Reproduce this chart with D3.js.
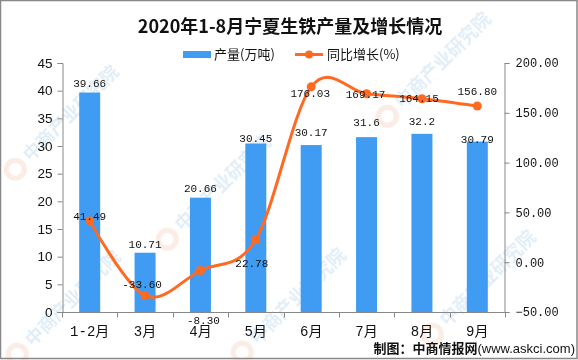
<!DOCTYPE html>
<html><head><meta charset="utf-8">
<script src="https://cdn.jsdelivr.net/npm/d3@7/dist/d3.min.js"></script>
<style>body{margin:0;background:#fff}svg{display:block}</style>
</head><body>
<script>
const categories = ["1-2月","3月","4月","5月","6月","7月","8月","9月"];
const output = [39.66,10.71,20.66,30.45,30.17,31.6,32.2,30.79];
const growth = [41.49,-33.60,-8.30,22.78,176.03,169.17,164.15,156.80];
const leftTicks = [0,5,10,15,20,25,30,35,40,45];
const rightTicks = [-50,0,50,100,150,200];

// label placement offsets (style)
const barLabelDy = [-6,-5,-6,-2,-9,-11,-9,1];
const lineLabelOff = [[0,-1],[-3,-8],[3,54],[-4,27],[-1,10],[-1,4],[-3,3],[0,-11]];

const W=578,H=360;
const svg=d3.select("body").append("svg").attr("width",W).attr("height",H);
const mono='"Liberation Mono","Noto Sans CJK SC",monospace';
const cjk='"Noto Sans CJK SC",sans-serif';

// watermark
const wm=svg.append("g").attr("opacity",0.2);
const wmPos=[[28,165],[180,235],[400,112],[445,330],[30,350],[255,348]];
wmPos.forEach(p=>{
  const g=wm.append("g").attr("transform",`translate(${p[0]},${p[1]}) rotate(-45)`);
  g.append("circle").attr("cx",-12).attr("cy",-6).attr("r",9).attr("fill","none").attr("stroke","#e8a080").attr("stroke-width",5);
  g.append("text").attr("x",4).attr("y",0).attr("font-family",cjk).attr("font-weight","bold").attr("font-size",18).attr("fill","#6aa6d8").text("中商产业研究院");
});

const x=d3.scaleBand().domain(categories).range([62,505]);
const yL=d3.scaleLinear().domain([0,45]).range([312,63]);
const yR=d3.scaleLinear().domain([-50,200]).range([312,63]);

// title
svg.append("text").attr("x",290).attr("y",33).attr("text-anchor","middle")
  .attr("font-family",'"Noto Sans CJK SC",serif').attr("font-weight","bold").attr("font-size",18).attr("fill","#111")
  .text("2020年1-8月宁夏生铁产量及增长情况");

// legend
svg.append("rect").attr("x",183).attr("y",51).attr("width",28).attr("height",7).attr("fill","#3f9cf2");
svg.append("text").attr("x",214).attr("y",59).attr("font-family",cjk).attr("font-size",13).attr("fill","#111").text("产量(万吨)");
svg.append("line").attr("x1",295).attr("x2",323).attr("y1",54.5).attr("y2",54.5).attr("stroke","#ff6a23").attr("stroke-width",3);
svg.append("circle").attr("cx",309).attr("cy",54.5).attr("r",4).attr("fill","#ff6a23");
svg.append("text").attr("x",327).attr("y",59).attr("font-family",cjk).attr("font-size",13).attr("fill","#111").text("同比增长(%)");

// axes
const axisColor="#888";
const gl=svg.append("g").attr("transform","translate(62.5,0)").call(d3.axisLeft(yL).tickValues(leftTicks).tickSize(5).tickPadding(5));
gl.selectAll("path,line").attr("stroke",axisColor);
gl.selectAll("text").attr("font-family",'"Liberation Sans",Arial,sans-serif').attr("font-size",13.5).attr("fill","#111");
const gr=svg.append("g").attr("transform","translate(504.5,0)").call(d3.axisRight(yR).tickValues(rightTicks).tickSize(5).tickPadding(6).tickFormat(d3.format(".2f")));
gr.selectAll("path,line").attr("stroke",axisColor);
gr.selectAll("text").attr("font-family",mono).attr("font-size",12).attr("fill","#111");
// x axis
const gx=svg.append("g").attr("transform","translate(0,312.5)");
gx.append("line").attr("x1",62).attr("x2",505).attr("stroke",axisColor);
const bounds=categories.map(c=>x(c)).concat([x.range()[1]]);
gx.selectAll("line.t").data(bounds).join("line").attr("class","t")
  .attr("x1",d=>Math.round(d)+0.5).attr("x2",d=>Math.round(d)+0.5).attr("y1",0).attr("y2",5).attr("stroke",axisColor);
gx.selectAll("text").data(categories).join("text")
  .attr("x",d=>x(d)+x.bandwidth()/2).attr("y",23).attr("text-anchor","middle")
  .attr("font-family",mono).attr("font-size",14).attr("fill","#111").text(d=>d);

// bars
const bw=21;
svg.selectAll("rect.bar").data(output).join("rect").attr("class","bar")
  .attr("x",(d,i)=>x(categories[i])+x.bandwidth()/2-bw/2).attr("width",bw)
  .attr("y",d=>yL(d)).attr("height",d=>312-yL(d)).attr("fill","#3f9cf2");
svg.selectAll("text.bl").data(output).join("text").attr("class","bl")
  .attr("x",(d,i)=>x(categories[i])+x.bandwidth()/2).attr("y",(d,i)=>yL(d)+barLabelDy[i])
  .attr("text-anchor","middle").attr("font-family",mono).attr("font-size",11).attr("fill","#111").text(d=>d);

// line
const pts=growth.map((v,i)=>[x(categories[i])+x.bandwidth()/2,yR(v)]);
svg.append("path").attr("d",d3.line().curve(d3.curveCardinal.tension(0))(pts))
  .attr("fill","none").attr("stroke","#ff6a23").attr("stroke-width",3);
svg.selectAll("circle.pt").data(pts).join("circle").attr("class","pt")
  .attr("cx",d=>d[0]).attr("cy",d=>d[1]).attr("r",4.5).attr("fill","#ff6a23");
svg.selectAll("text.ll").data(growth).join("text").attr("class","ll")
  .attr("x",(d,i)=>pts[i][0]+lineLabelOff[i][0]).attr("y",(d,i)=>pts[i][1]+lineLabelOff[i][1])
  .attr("text-anchor","middle").attr("font-family",mono).attr("font-size",11).attr("fill","#111").text(d=>d.toFixed(2));

// source
svg.append("text").attr("x",575).attr("y",353).attr("text-anchor","end").attr("font-size",13).attr("fill","#111")
  .call(t=>{t.append("tspan").attr("font-family",cjk).attr("font-weight","bold").text("制图：中商情报网");
            t.append("tspan").attr("font-family",'"Liberation Sans",Arial,sans-serif').text("(www.askci.com)");});

// frame
svg.append("rect").attr("x",0.5).attr("y",0.5).attr("width",W-1.5).attr("height",H-2).attr("fill","none").attr("stroke","#888").attr("stroke-width",1.5);
</script>
</body></html>
